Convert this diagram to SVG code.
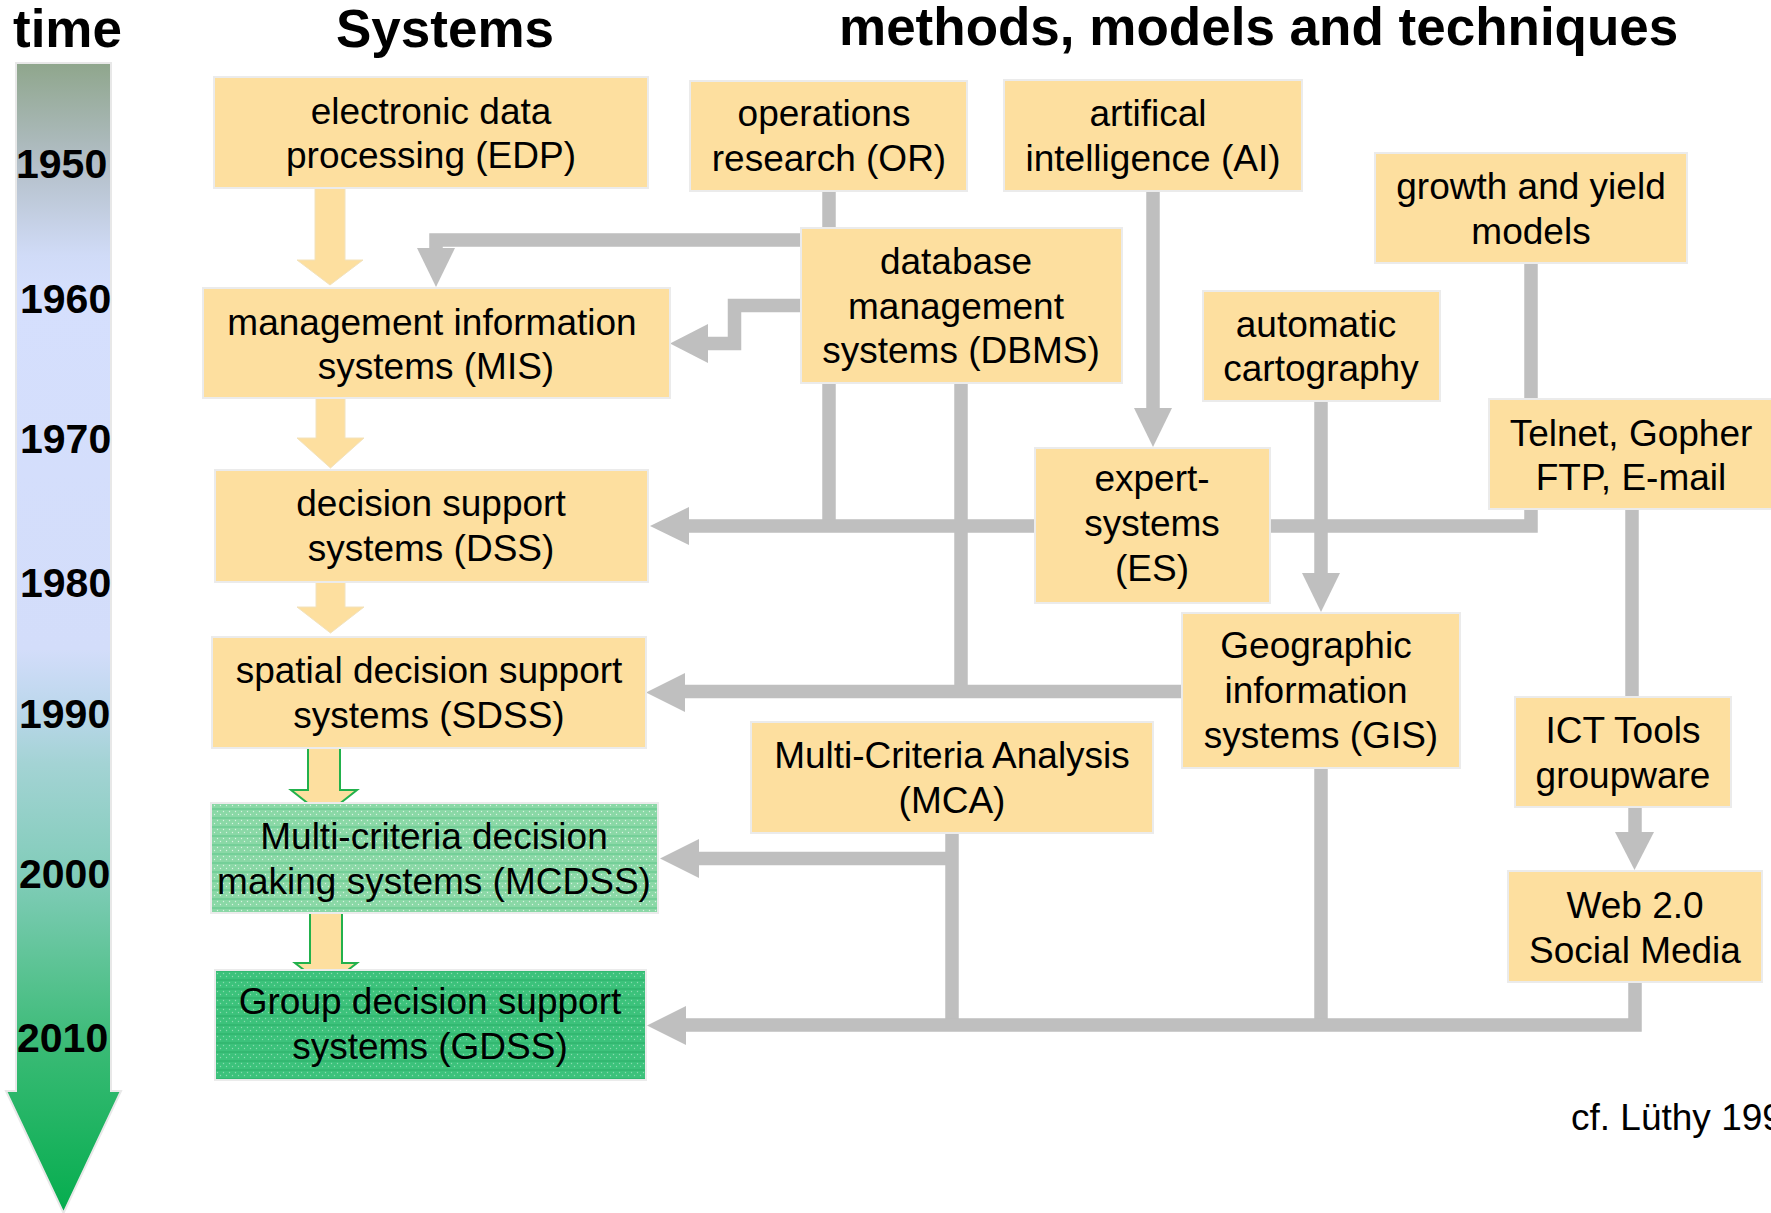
<svg xmlns="http://www.w3.org/2000/svg" width="1771" height="1213" viewBox="0 0 1771 1213">
<defs>
<style>
.box{fill:#FDDF9F;stroke:#ebebeb;stroke-width:2}
.t{font-family:"Liberation Sans",Arial,sans-serif;font-size:37px;fill:#000;text-anchor:middle}
.yr{font-family:"Liberation Sans",Arial,sans-serif;font-size:41px;font-weight:bold;fill:#000}
.title{font-family:"Liberation Sans",Arial,sans-serif;font-size:53px;font-weight:bold;fill:#000}
.ln{fill:none;stroke:#bfbfbf;stroke-width:13.5;stroke-linejoin:miter}
.ah{fill:#bfbfbf}
.oa{fill:#FDDF9F;stroke:#f2e2bd;stroke-width:1}
.ga{fill:#FDDF9F;stroke:#22b14c;stroke-width:2}
</style>
<linearGradient id="tl" gradientUnits="userSpaceOnUse" x1="0" y1="63" x2="0" y2="1213">
<stop offset="0" stop-color="#8fa68c"/>
<stop offset="0.085" stop-color="#b2bec6"/>
<stop offset="0.167" stop-color="#d0dbf7"/>
<stop offset="0.2" stop-color="#d5dffd"/>
<stop offset="0.51" stop-color="#d3ddfa"/>
<stop offset="0.56" stop-color="#bcd7ec"/>
<stop offset="0.61" stop-color="#a3d3d4"/>
<stop offset="0.71" stop-color="#80ccb8"/>
<stop offset="0.78" stop-color="#5fc497"/>
<stop offset="0.86" stop-color="#38ba74"/>
<stop offset="1" stop-color="#05ad4e"/>
</linearGradient>
<pattern id="pm" patternUnits="userSpaceOnUse" width="6" height="9">
<rect width="6" height="9" fill="#8ad8a6"/>
<circle cx="1.5" cy="1.5" r="0.7" fill="#d8f3e2"/>
<circle cx="4.5" cy="4.5" r="0.7" fill="#d8f3e2"/>
<rect y="7.5" width="6" height="1" fill="#5ec68b"/>
</pattern>
<pattern id="pg" patternUnits="userSpaceOnUse" width="6" height="9">
<rect width="6" height="9" fill="#3cc27b"/>
<circle cx="1.5" cy="1.5" r="0.7" fill="#8adbaf"/>
<circle cx="4.5" cy="4.5" r="0.7" fill="#8adbaf"/>
<rect y="7.5" width="6" height="1" fill="#2aae66"/>
</pattern>
</defs>
<rect width="1771" height="1213" fill="#fff"/>

<g id="timeline">
<path d="M16 63 H111 V1091 H121 L63.5 1213 L6 1091 H16 Z" fill="url(#tl)" stroke="#e8e8e8" stroke-width="2"/>
<text class="yr" x="16" y="178">1950</text>
<text class="yr" x="20" y="313">1960</text>
<text class="yr" x="20" y="453">1970</text>
<text class="yr" x="20" y="597">1980</text>
<text class="yr" x="19" y="728">1990</text>
<text class="yr" x="19" y="888">2000</text>
<text class="yr" x="17" y="1052">2010</text>
</g>

<g id="titles">
<text class="title" x="13" y="47">time</text>
<text class="title" x="336" y="47">Systems</text>
<text class="title" x="839" y="45">methods, models and techniques</text>
</g>

<g id="connectors">
<path class="ln" d="M829 190 V526"/>
<path class="ln" d="M829 240 H436 V250"/>
<polygon class="ah" points="417,248 455,248 436,287"/>
<path class="ln" d="M801 305.5 H734.5 V343.5 H706"/>
<polygon class="ah" points="708,324 708,363 670,343.5"/>
<path class="ln" d="M1153 191 V410"/>
<polygon class="ah" points="1134,408 1172,408 1153,447"/>
<path class="ln" d="M1531 263 V399"/>
<path class="ln" d="M1531 509 V526 H686"/>
<polygon class="ah" points="689,507 689,545 650,526"/>
<path class="ln" d="M961 383 V691.5"/>
<path class="ln" d="M1321 401 V575"/>
<polygon class="ah" points="1302,573 1340,573 1321,612"/>
<path class="ln" d="M1182 691.5 H682"/>
<polygon class="ah" points="685,673 685,712 646,692.5"/>
<path class="ln" d="M1632 509 V697"/>
<path class="ln" d="M952 833 V1025"/>
<path class="ln" d="M952 858.5 H696"/>
<polygon class="ah" points="699,839 699,878 660,858.5"/>
<path class="ln" d="M1321 768 V1025"/>
<path class="ln" d="M1635 982 V1025 H683"/>
<polygon class="ah" points="686,1006 686,1045 647,1025.5"/>
<path class="ln" d="M1635 807 V834"/>
<polygon class="ah" points="1615,832 1654,832 1634.5,870"/>
<polygon class="oa" points="315,188 345,188 345,260 363,260 330,285 297,260 315,260"/>
<polygon class="oa" points="316,398 345,398 345,438 364,438 330.5,468 297,438 316,438"/>
<polygon class="oa" points="316,582 345,582 345,607 364,607 330.5,633 297,607 316,607"/>
<polygon class="ga" points="308,748 340,748 340,790 357,790 324,816 291,790 308,790"/>
<polygon class="ga" points="310,913 342,913 342,963 357,963 326,987 295,963 310,963"/>
</g>

<g id="edp"><rect class="box" x="214" y="77" width="434" height="111"/>
<text class="t" x="431" y="124">electronic data<tspan x="431" y="168">processing (EDP)</tspan></text></g>

<g id="or"><rect class="box" x="690" y="81" width="277" height="110"/>
<text class="t" x="824" y="126">operations<tspan x="829" y="171">research (OR)</tspan></text></g>

<g id="ai"><rect class="box" x="1004" y="80" width="298" height="111"/>
<text class="t" x="1148" y="126">artifical<tspan x="1153" y="171">intelligence (AI)</tspan></text></g>

<g id="growth"><rect class="box" x="1375" y="153" width="312" height="110"/>
<text class="t" x="1531" y="199">growth and yield<tspan x="1531" y="244">models</tspan></text></g>

<g id="mis"><rect class="box" x="203" y="288" width="467" height="110"/>
<text class="t" x="432" y="335">management information<tspan x="436" y="379">systems (MIS)</tspan></text></g>

<g id="dbms"><rect class="box" x="801" y="228" width="321" height="155"/>
<text class="t" x="956" y="274">database<tspan x="956" y="319">management</tspan><tspan x="961" y="363">systems (DBMS)</tspan></text></g>

<g id="autocarto"><rect class="box" x="1203" y="291" width="237" height="110"/>
<text class="t" x="1316" y="337">automatic<tspan x="1321" y="381">cartography</tspan></text></g>

<g id="telnet"><rect class="box" x="1489" y="399" width="290" height="110"/>
<text class="t" x="1631" y="446">Telnet, Gopher<tspan x="1631" y="490">FTP, E-mail</tspan></text></g>

<g id="dss"><rect class="box" x="215" y="470" width="433" height="112"/>
<text class="t" x="431" y="516">decision support<tspan x="431" y="561">systems (DSS)</tspan></text></g>

<g id="es"><rect class="box" x="1035" y="448" width="235" height="155"/>
<text class="t" x="1152" y="491">expert-<tspan x="1152" y="536">systems</tspan><tspan x="1152" y="581">(ES)</tspan></text></g>

<g id="sdss"><rect class="box" x="212" y="637" width="434" height="111"/>
<text class="t" x="429" y="683">spatial decision support<tspan x="429" y="728">systems (SDSS)</tspan></text></g>

<g id="gis"><rect class="box" x="1182" y="613" width="278" height="155"/>
<text class="t" x="1316" y="658">Geographic<tspan x="1316" y="703">information</tspan><tspan x="1321" y="748">systems (GIS)</tspan></text></g>

<g id="ict"><rect class="box" x="1515" y="697" width="216" height="110"/>
<text class="t" x="1623" y="743">ICT Tools<tspan x="1623" y="788">groupware</tspan></text></g>

<g id="mca"><rect class="box" x="751" y="722" width="402" height="111"/>
<text class="t" x="952" y="768">Multi-Criteria Analysis<tspan x="952" y="813">(MCA)</tspan></text></g>

<g id="mcdss"><rect x="211" y="803" width="447" height="110" fill="url(#pm)" stroke="#ebebeb" stroke-width="2"/>
<text class="t" x="434" y="849">Multi-criteria decision<tspan x="434" y="894">making systems (MCDSS)</tspan></text></g>

<g id="web"><rect class="box" x="1508" y="871" width="254" height="111"/>
<text class="t" x="1635" y="918">Web 2.0<tspan x="1635" y="963">Social Media</tspan></text></g>

<g id="gdss"><rect x="215" y="970" width="431" height="110" fill="url(#pg)" stroke="#ebebeb" stroke-width="2"/>
<text class="t" x="430" y="1014">Group decision support<tspan x="430" y="1059">systems (GDSS)</tspan></text></g>

<text class="t" x="1571" y="1130" style="text-anchor:start">cf. Lüthy 199</text>
</svg>
